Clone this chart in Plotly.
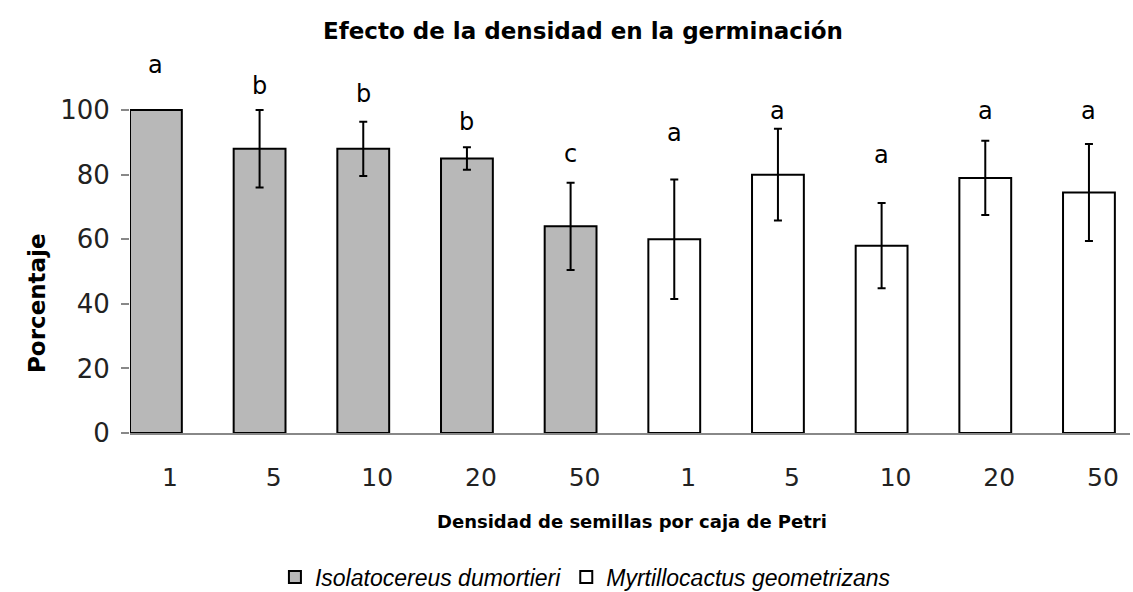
import plotly.graph_objects as go

# ---- data ----
densities = ["1", "5", "10", "20", "50", "1", "5", "10", "20", "50"]
species = ["Isolatocereus dumortieri", "Myrtillocactus geometrizans"]
iso_values = [100, 88, 88, 85, 64]
iso_errors = [0, 12, 8.4, 3.5, 13.5]
myr_values = [60, 80, 58, 79, 74.5]
myr_errors = [18.5, 14.2, 13.2, 11.5, 15]
letters = ["a", "b", "b", "b", "c", "a", "a", "a", "a", "a"]
letter_y = [114, 107.6, 104.9, 96.4, 86.4, 93, 99.7, 86, 99.7, 99.7]
y_ticks = [0, 20, 40, 60, 80, 100]

idx = list(range(len(densities)))
iso_x = idx[:5]
myr_x = idx[5:]

FONT = "DejaVu Sans, Arial, sans-serif"
LFONT = "Liberation Sans, Arial, sans-serif"

W, H = 1133, 592
L, R, T, B = 130, 1130, 52, 433  # plot area in pixels

def px_x(p):
    return (p - L) / (R - L)

def px_y(p):
    return (B - p) / (B - T)

fig = go.Figure()
fig.add_trace(go.Bar(
    x=iso_x, y=iso_values, name=species[0], width=0.5,
    marker=dict(color="#b8b8b8", line=dict(color="black", width=2)),
    error_y=dict(type="data", array=iso_errors, visible=True,
                 color="black", thickness=2, width=4),
    cliponaxis=False,
))
fig.add_trace(go.Bar(
    x=myr_x, y=myr_values, name=species[1], width=0.5,
    marker=dict(color="white", line=dict(color="black", width=2)),
    error_y=dict(type="data", array=myr_errors, visible=True,
                 color="black", thickness=2, width=4),
    cliponaxis=False,
))

for xi, t, yv in zip(idx, letters, letter_y):
    fig.add_annotation(x=xi, y=yv, text=t, showarrow=False, xref="x", yref="y",
                       yanchor="middle", font=dict(family=FONT, size=24, color="black"))

fig.add_annotation(xref="x domain", yref="y domain", x=px_x(22), y=px_y(303),
                   text="<b>Porcentaje</b>", showarrow=False, textangle=-90,
                   font=dict(family=FONT, size=23, color="black"))
fig.add_annotation(xref="x domain", yref="y domain", x=px_x(632), y=px_y(521),
                   text="<b>Densidad de semillas por caja de Petri</b>",
                   showarrow=False, yanchor="middle",
                   font=dict(family=FONT, size=18, color="black"))

fig.update_layout(
    width=W, height=H,
    margin=dict(l=L, r=W - R, t=T, b=H - B),
    paper_bgcolor="white", plot_bgcolor="white",
    title=dict(text="<b>Efecto de la densidad en la germinación</b>",
               x=583 / W, xanchor="center", y=1 - 31 / H, yanchor="middle",
               font=dict(family=FONT, size=23, color="black")),
    showlegend=True,
    legend=dict(orientation="h", x=516 / W, xref="paper", xanchor="center",
                y=(H - 577) / H, yref="container", yanchor="middle",
                font=dict(family=LFONT, size=23, color="black", style="italic"),
                itemwidth=30),
)
fig.update_xaxes(
    range=[-0.25, 9.396], tickmode="array", tickvals=idx, ticktext=densities,
    showline=True, linecolor="#888888", linewidth=1.5, ticks="", showgrid=False,
    zeroline=False, ticklabelshift=14, ticklabelstandoff=21,
    tickfont=dict(family=FONT, size=25, color="#222222"),
)
fig.update_yaxes(
    range=[0, 118], tickvals=y_ticks, ticks="outside", ticklen=8,
    tickcolor="#888888", tickwidth=1.5, showline=False, showgrid=False,
    zeroline=False, tickfont=dict(family=FONT, size=26, color="#222222"),
    ticklabelstandoff=6,
)

fig.write_html("out.html", config={"displayModeBar": False},
               post_script="document.body.style.margin='0';")
